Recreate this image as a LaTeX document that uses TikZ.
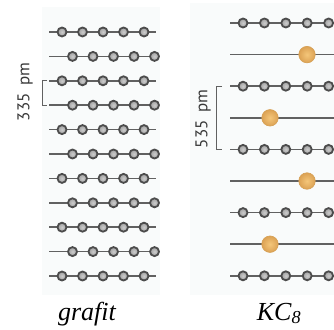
\documentclass[tikz,border=0pt]{standalone}
\usepackage{fontspec}
\setmainfont{Liberation Serif}
\newfontfamily\labelsans{PT Sans}
\begin{document}
\begin{tikzpicture}[x=1pt,y=-1pt,
  panel/.style={fill={rgb,255:red,249;green,251;blue,251}, draw=none},
  layer/.style={draw=black!62, line width=1.5pt},
  carbon/.style={circle, inner sep=0pt, minimum size=9pt, draw=black!70, line width=1.8pt,
    inner color=gray!40, outer color=gray!75},
  potassium/.style={circle, inner sep=0pt, minimum size=16.5pt, draw={rgb,255:red,214;green,160;blue,84}, line width=0.6pt,
    inner color={rgb,255:red,244;green,198;blue,122}, outer color={rgb,255:red,220;green,162;blue,84}},
  spacing/.style={draw=black!62, line width=1pt},
  dimtext/.style={rotate=90, text=black!78, font=\labelsans\fontsize{17}{17}\selectfont},
  caption/.style={anchor=base, font=\itshape\fontsize{26}{26}\selectfont}]
  \useasboundingbox (0,0) rectangle (334,329);
  \clip (0,0) rectangle (334,329);

  % faint backdrops of the two stacks
  \fill[panel] (42,7) rectangle (160,295);
  \fill[panel] (190,3) rectangle (334,295);

  % graphite: eleven staggered layers
  \foreach \i in {1,...,11}{
    \pgfmathsetmacro\yy{32+(\i-1)*24.4}
    \pgfmathsetmacro\xs{ifthenelse(mod(\i,2)==1,62,72.5)}
    \coordinate (gL\i) at (49,\yy);
    \coordinate (gR\i) at (156,\yy);
    \draw[layer] (gL\i) -- (gR\i);
    \foreach \k in {0,...,4}{
      \node[carbon] (g\i-\k) at ({\xs+20.5*\k},\yy) {};
    }
  }

  % KC8: carbon layers with potassium layers between them
  \foreach \i in {1,3,5,7,9}{
    \pgfmathsetmacro\yy{23+(\i-1)*31.6}
    \coordinate (kL\i) at (230,\yy);
    \coordinate (kR\i) at (340,\yy);
    \draw[layer] (kL\i) -- (kR\i);
    \foreach \k in {0,...,4}{
      \node[carbon] (c\i-\k) at ({243+21.4*\k},\yy) {};
    }
  }
  \foreach \i/\kx in {2/307,4/270,6/307,8/270}{
    \pgfmathsetmacro\yy{23+(\i-1)*31.6}
    \coordinate (kL\i) at (230,\yy);
    \coordinate (kR\i) at (340,\yy);
    \draw[layer] (kL\i) -- (kR\i);
    \node[potassium] (K\i) at (\kx,\yy) {};
  }

  % interlayer spacing brackets
  \coordinate (b1a) at (47,80.8);
  \coordinate (b1b) at (47,105.2);
  \draw[spacing] (b1a) -- ++(-5,0) |- (b1b);
  \node[dimtext] (d1) at (25,92) {335\hspace{0.45em}pm};

  \coordinate (b2a) at (222,86.2);
  \coordinate (b2b) at (222,149.4);
  \draw[spacing] (b2a) -- ++(-6,0) |- (b2b);
  \node[dimtext] (d2) at (203,119) {535\hspace{0.45em}pm};

  % captions
  \node[caption] (capg) at (87,320) {grafit};
  \node[caption] (capk) at (279,320) {KC\textsubscript{8}};
\end{tikzpicture}
\end{document}
